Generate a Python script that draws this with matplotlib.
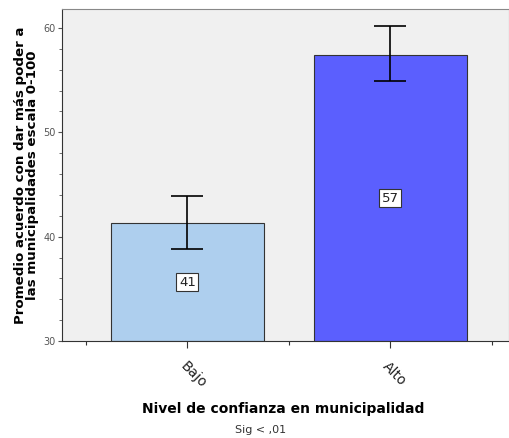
import matplotlib.pyplot as plt
from matplotlib.ticker import MultipleLocator, FixedLocator

categories = ['Bajo', 'Alto']
means = [41.3, 57.4]
ci_low = [38.8, 54.9]
ci_high = [43.9, 60.2]
labels = ['41', '57']
colors = ['#aecfee', '#5b5ffe']

fig = plt.figure(figsize=(5.10, 4.38), dpi=100)
ax = fig.add_axes([0.1216, 0.2215, 0.876, 0.7575])
ax.set_facecolor('#f0f0f0')

x = list(range(len(categories)))
ax.bar(x, [m - 30 for m in means], bottom=30, width=0.755, color=colors,
       edgecolor='#333333', linewidth=0.8, zorder=2)

err_lo = [m - l for m, l in zip(means, ci_low)]
err_hi = [h - m for m, h in zip(means, ci_high)]
ax.errorbar(x, means, yerr=[err_lo, err_hi], fmt='none', ecolor='black',
            elinewidth=1.2, capsize=11.5, capthick=1.2, zorder=3)

for xi, m, lab in zip(x, means, labels):
    ax.text(xi, (30 + m) / 2, lab, ha='center', va='center', fontsize=9.5,
            color='#222222', zorder=4,
            bbox=dict(boxstyle='square,pad=0.2', facecolor='white',
                      edgecolor='#333333', linewidth=0.8))

ax.set_ylim(30, 61.8)
ax.set_xlim(-0.618, 1.585)
ax.yaxis.set_major_locator(MultipleLocator(10))
ax.yaxis.set_minor_locator(MultipleLocator(2))
ax.set_xticks(x)
ax.set_xticklabels(categories, rotation=-45, ha='left', rotation_mode='anchor',
                   fontsize=10, color='#222222')
ax.xaxis.set_minor_locator(FixedLocator([-0.5, 0.5, 1.5]))
ax.tick_params(axis='y', which='major', labelsize=7, colors='#555555',
               length=3, width=0.8, pad=1.5)
ax.tick_params(axis='y', which='minor', length=2, width=0.6, color='#555555')
ax.tick_params(axis='x', which='major', length=5, width=0.8, color='#333333', pad=8)
ax.tick_params(axis='x', which='minor', length=3, width=0.8, color='#333333')

for s in ['top', 'right']:
    ax.spines[s].set_color('#888888')
ax.spines['left'].set_color('#333333')
ax.spines['bottom'].set_color('#333333')

ax.set_ylabel('Promedio acuerdo con dar más poder a\nlas municipalidades escala 0-100',
              fontsize=9.6, fontweight='bold', linespacing=0.9)
ax.yaxis.set_label_coords(-0.052, 0.5)
fig.text(0.555, 0.057, 'Nivel de confianza en municipalidad', ha='center',
         fontsize=10, fontweight='bold')
fig.text(0.51, 0.012, 'Sig < ,01', ha='center', fontsize=8, color='#333333')

fig.savefig('out.png', dpi=100)
